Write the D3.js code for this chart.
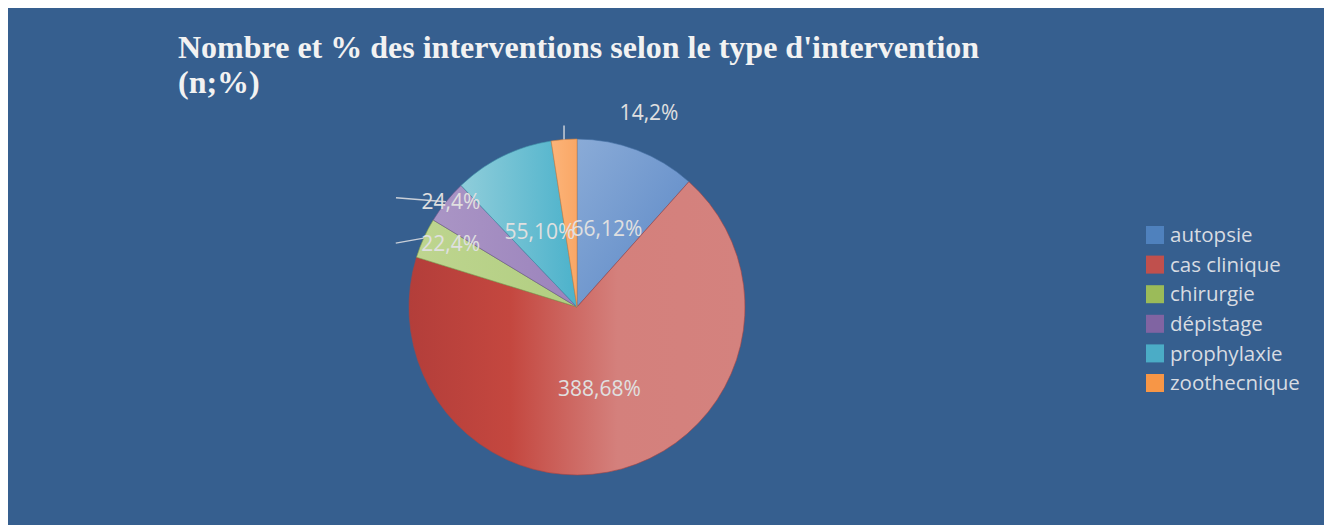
<!DOCTYPE html>
<html>
<head>
<meta charset="utf-8">
<script src="https://cdn.jsdelivr.net/npm/d3@7"></script>
<style>
  body { margin: 0; background: #ffffff; }
  svg { display: block; }
</style>
</head>
<body>
<div id="chart"></div>
<script>
// data
const categories = ["autopsie", "cas clinique", "chirurgie", "dépistage", "prophylaxie", "zoothecnique"];
const counts = [66, 388, 22, 24, 55, 14];
const percents = [12, 68, 4, 4, 10, 2];
const colors = ["#4f81bd", "#c0504d", "#9bbb59", "#8064a2", "#4bacc6", "#f79646"];
const titleLines = ["Nombre et % des interventions selon le type d'intervention", "(n;%)"];

// gradient stops per slice (light/dark shading like the office preset)
const sliceStops = [
  [["0%", "#8aabd7"], ["100%", "#5a87c6"]],
  [["0%", "#b33e3a"], ["30%", "#c4473f"], ["62%", "#d4807c"], ["100%", "#d4827e"]],
  [["0%", "#bed58f"], ["100%", "#b1ce81"]],
  [["0%", "#aa95c5"], ["100%", "#9b83bc"]],
  [["0%", "#8fcdda"], ["100%", "#4cb2cb"]],
  [["0%", "#fcb479"], ["100%", "#f9a766"]]
];
const sliceDirs = ["diag", "horiz", "horiz", "horiz", "horiz", "horiz"];

// labels outside the pie: offsets from the slice's outer edge point
const callouts = {
  "chirurgie":    { line: [-28, 5],  label: [27, 5] },
  "dépistage":    { line: [-50, -4], label: [5, 0] },
  "zoothecnique": { line: [0, -14],  label: [85, -27] }
};

const width = 1324, height = 525;
const cx = 577, cy = 307, radius = 168;

const svg = d3.select("#chart").append("svg")
    .attr("width", width)
    .attr("height", height);

svg.append("rect")
    .attr("x", 8).attr("y", 8)
    .attr("width", width - 8).attr("height", height - 8)
    .attr("fill", "#365f8f");

// title
const title = svg.append("text")
    .attr("x", 178)
    .attr("y", 58)
    .attr("fill", "#f2f2f2")
    .style("font-family", "'Liberation Serif', 'Times New Roman', serif")
    .style("font-weight", "bold")
    .style("font-size", "32px");
title.selectAll("tspan")
    .data(titleLines)
    .enter().append("tspan")
    .attr("x", 178)
    .attr("dy", (d, i) => i === 0 ? 0 : 35)
    .text(d => d);

const data = categories.map((c, i) => ({ cat: c, count: counts[i], pct: percents[i], i: i }));

const pie = d3.pie().sort(null).value(d => d.count);
const arcs = pie(data);

const arc = d3.arc().innerRadius(0).outerRadius(radius);
const labelArc = d3.arc().innerRadius(radius * 0.5).outerRadius(radius * 0.5);
const edgeArc = d3.arc().innerRadius(radius).outerRadius(radius);

const defs = svg.append("defs");
data.forEach((d, i) => {
  const g = defs.append("linearGradient")
      .attr("id", "grad" + i)
      .attr("x1", "0%").attr("y1", "0%")
      .attr("x2", "100%").attr("y2", sliceDirs[i] === "diag" ? "100%" : "0%");
  sliceStops[i].forEach(s => g.append("stop").attr("offset", s[0]).attr("stop-color", s[1]));
});

const pieG = svg.append("g")
    .attr("transform", "translate(" + cx + "," + cy + ")");

pieG.selectAll(".slice")
    .data(arcs)
    .enter().append("path")
    .attr("class", "slice")
    .attr("d", arc)
    .attr("fill", d => "url(#grad" + d.data.i + ")")
    .attr("stroke", d => d3.color(colors[d.data.i]).darker(0.4))
    .attr("stroke-opacity", 0.6)
    .attr("stroke-width", 1);

// leader lines
pieG.selectAll(".leader")
    .data(arcs.filter(d => callouts[d.data.cat]))
    .enter().append("line")
    .attr("class", "leader")
    .attr("x1", d => edgeArc.centroid(d)[0])
    .attr("y1", d => edgeArc.centroid(d)[1])
    .attr("x2", d => edgeArc.centroid(d)[0] + callouts[d.data.cat].line[0])
    .attr("y2", d => edgeArc.centroid(d)[1] + callouts[d.data.cat].line[1])
    .attr("stroke", "#c9cfd8")
    .attr("stroke-width", 1.5);

// data labels
pieG.selectAll(".lbl")
    .data(arcs)
    .enter().append("text")
    .attr("class", "lbl")
    .attr("transform", d => {
      const co = callouts[d.data.cat];
      let p;
      if (co) {
        const e = edgeArc.centroid(d);
        p = [e[0] + co.label[0], e[1] + co.label[1]];
      } else {
        p = labelArc.centroid(d);
      }
      return "translate(" + p[0] + "," + p[1] + ")";
    })
    .attr("text-anchor", "middle")
    .attr("dy", "0.36em")
    .attr("fill", "#e0e0e0")
    .style("font-family", "'Open Sans', sans-serif")
    .style("font-size", "21px")
    .text(d => d.data.count + "," + d.data.pct + "%");

// legend
const legendY = d3.scalePoint()
    .domain(categories)
    .range([235, 383]);

const legend = svg.append("g")
    .selectAll("g")
    .data(data)
    .enter().append("g")
    .attr("transform", d => "translate(1146," + legendY(d.cat) + ")");

legend.append("rect")
    .attr("x", 0).attr("y", -9)
    .attr("width", 18).attr("height", 18)
    .attr("fill", d => colors[d.i]);

legend.append("text")
    .attr("x", 24)
    .attr("dy", "0.35em")
    .attr("fill", "#d8dce2")
    .style("font-family", "'Open Sans', sans-serif")
    .style("font-size", "20.5px")
    .text(d => d.cat);
</script>
</body>
</html>
